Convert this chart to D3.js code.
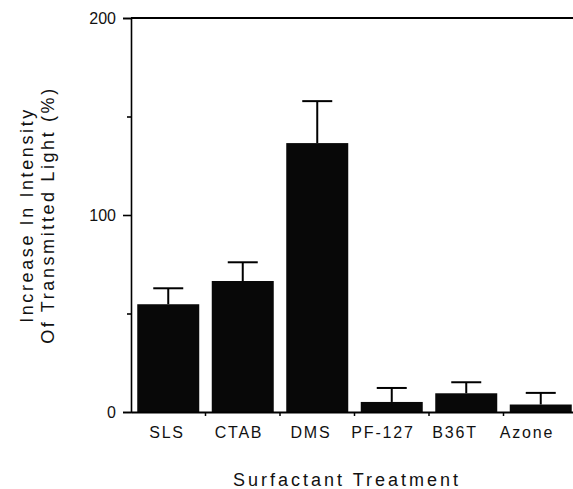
<!DOCTYPE html>
<html>
<head>
<meta charset="utf-8">
<script src="https://cdn.jsdelivr.net/npm/d3@7"></script>
<style>
  body { margin: 0; background: #fff; }
  svg { display: block; font-family: "Liberation Sans", Arial, sans-serif; }
</style>
</head>
<body>
<div id="main"></div>
<script>
const categories = ['SLS', 'CTAB', 'DMS', 'PF-127', 'B36T', 'Azone'];
const values = [54.7, 66.5, 136.5, 5.1, 9.5, 3.8];
const errors = [8.1, 9.5, 21.3, 7.1, 5.6, 5.9];
const yTicks = [0, 100, 200];
const yMinorTicks = [50, 150];

const W = 573, H = 489;

let svg = d3.select('div#main')
  .append('svg')
  .attr('width', W)
  .attr('height', H);

// plot area
const plotLeft = 131, plotRight = 578, plotTop = 18, plotBottom = 412;

const x = d3.scaleBand()
  .domain(categories)
  .range([plotLeft, plotRight])
  .paddingInner(0.168)
  .paddingOuter(0.084);

// labels in the original drift a little left of the bar centres
const xLabel = d3.scalePoint()
  .domain(categories)
  .range([167, 527]);

const y = d3.scaleLinear()
  .domain([0, 200])
  .range([plotBottom, plotTop]);

// bars
svg.selectAll('rect.bar')
  .data(categories)
  .enter()
  .append('rect')
    .attr('class', 'bar')
    .attr('x', d => x(d))
    .attr('width', x.bandwidth())
    .attr('y', (d, i) => y(values[i]))
    .attr('height', (d, i) => y(0) - y(values[i]))
    .attr('fill', '#080808');

// error bars (upper only)
const cap = 15;
svg.selectAll('line.stem')
  .data(categories)
  .enter()
  .append('line')
    .attr('class', 'stem')
    .attr('x1', d => x(d) + x.bandwidth() / 2)
    .attr('x2', d => x(d) + x.bandwidth() / 2)
    .attr('y1', (d, i) => y(values[i]))
    .attr('y2', (d, i) => y(values[i] + errors[i]))
    .attr('stroke', '#000')
    .attr('stroke-width', 2);

svg.selectAll('line.cap')
  .data(categories)
  .enter()
  .append('line')
    .attr('class', 'cap')
    .attr('x1', d => x(d) + x.bandwidth() / 2 - cap)
    .attr('x2', d => x(d) + x.bandwidth() / 2 + cap)
    .attr('y1', (d, i) => y(values[i] + errors[i]))
    .attr('y2', (d, i) => y(values[i] + errors[i]))
    .attr('stroke', '#000')
    .attr('stroke-width', 2);

// y axis
const yAxis = svg.append('g')
  .attr('transform', `translate(${plotLeft},0)`)
  .call(d3.axisLeft(y).tickValues(yTicks).tickSize(8).tickPadding(7));
yAxis.select('.domain').attr('stroke', '#000').attr('stroke-width', 1.6);
yAxis.selectAll('.tick line').attr('stroke', '#000').attr('stroke-width', 1.6);
yAxis.selectAll('.tick text')
  .attr('font-size', 16)
  .attr('fill', '#111')
  .attr('font-family', '"Liberation Sans", Arial, sans-serif');

svg.append('g')
  .attr('transform', `translate(${plotLeft},0)`)
  .call(d3.axisLeft(y).tickValues(yMinorTicks).tickSize(4).tickFormat(''))
  .call(g => g.select('.domain').remove())
  .selectAll('.tick line').attr('stroke', '#000').attr('stroke-width', 1.6);

// top frame line
svg.append('line')
  .attr('x1', plotLeft).attr('x2', W)
  .attr('y1', y(200)).attr('y2', y(200))
  .attr('stroke', '#000').attr('stroke-width', 2);

// x axis
const xAxis = svg.append('g')
  .attr('transform', `translate(0,${plotBottom})`)
  .call(d3.axisBottom(x).tickSize(0).tickFormat(''));
xAxis.select('.domain').attr('stroke', '#000').attr('stroke-width', 1.8);

// tick marks between categories
svg.selectAll('line.xtick')
  .data(categories.slice(1))
  .enter()
  .append('line')
    .attr('class', 'xtick')
    .attr('x1', d => x(d) - x.step() * x.paddingInner() / 2)
    .attr('x2', d => x(d) - x.step() * x.paddingInner() / 2)
    .attr('y1', plotBottom)
    .attr('y2', plotBottom + 4)
    .attr('stroke', '#000')
    .attr('stroke-width', 1.5);

svg.selectAll('text.xlab')
  .data(categories)
  .enter()
  .append('text')
    .attr('class', 'xlab')
    .attr('x', d => xLabel(d))
    .attr('y', 438)
    .attr('text-anchor', 'middle')
    .attr('font-size', 16)
    .attr('letter-spacing', 1.8)
    .attr('fill', '#111')
    .text(d => d);

// axis titles
svg.append('text')
  .attr('x', 347)
  .attr('y', 486)
  .attr('text-anchor', 'middle')
  .attr('font-size', 18)
  .attr('letter-spacing', 3)
  .attr('fill', '#111')
  .text('Surfactant  Treatment');

const yTitle = svg.append('text')
  .attr('transform', `translate(0,${y(100)}) rotate(-90)`)
  .attr('text-anchor', 'middle')
  .attr('font-size', 18)
  .attr('letter-spacing', 2.6)
  .attr('fill', '#111');
yTitle.append('tspan').attr('x', 0).attr('y', 33).text('Increase In Intensity');
yTitle.append('tspan').attr('x', 0).attr('y', 54).text('Of Transmitted Light (%)');
</script>
</body>
</html>
